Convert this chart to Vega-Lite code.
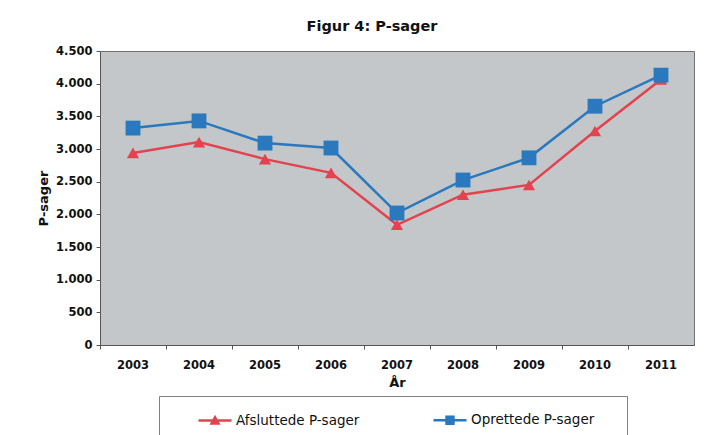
{
  "$schema": "https://vega.github.io/schema/vega-lite/v6.json",
  "width": 594,
  "height": 294,
  "autosize": {"type": "none"},
  "padding": {"left": 100, "top": 51, "right": 31, "bottom": 90},
  "background": "white",
  "title": {"text": "Figur 4: P-sager", "font": "DejaVu Sans", "fontSize": 14.5, "fontWeight": "bold", "color": "#111111", "anchor": "middle", "dx": -25, "offset": 11},
  "config": {
    "view": {"fill": "#C3C7C9", "stroke": "#707070", "strokeWidth": 1},
    "axis": {"labelFont": "DejaVu Sans", "labelFontWeight": "bold", "labelFontSize": 11.5, "labelColor": "#111111", "titleFont": "DejaVu Sans", "titleFontWeight": "bold", "titleFontSize": 13, "titleColor": "#111111", "domainColor": "#555555", "tickColor": "#555555", "grid": false}
  },
  "data": {"values": [
    {"year": "2003", "series": "Afsluttede P-sager", "value": 2940},
    {"year": "2004", "series": "Afsluttede P-sager", "value": 3105},
    {"year": "2005", "series": "Afsluttede P-sager", "value": 2845},
    {"year": "2006", "series": "Afsluttede P-sager", "value": 2635},
    {"year": "2007", "series": "Afsluttede P-sager", "value": 1840},
    {"year": "2008", "series": "Afsluttede P-sager", "value": 2300},
    {"year": "2009", "series": "Afsluttede P-sager", "value": 2450},
    {"year": "2010", "series": "Afsluttede P-sager", "value": 3275},
    {"year": "2011", "series": "Afsluttede P-sager", "value": 4065},
    {"year": "2003", "series": "Oprettede P-sager", "value": 3320},
    {"year": "2004", "series": "Oprettede P-sager", "value": 3430},
    {"year": "2005", "series": "Oprettede P-sager", "value": 3090},
    {"year": "2006", "series": "Oprettede P-sager", "value": 3015},
    {"year": "2007", "series": "Oprettede P-sager", "value": 2020},
    {"year": "2008", "series": "Oprettede P-sager", "value": 2525},
    {"year": "2009", "series": "Oprettede P-sager", "value": 2865},
    {"year": "2010", "series": "Oprettede P-sager", "value": 3655},
    {"year": "2011", "series": "Oprettede P-sager", "value": 4130}
  ]},
  "encoding": {
    "x": {"field": "year", "type": "ordinal", "scale": {"type": "band", "paddingInner": 0, "paddingOuter": 0}, "axis": {"title": "År", "labelAngle": 0, "bandPosition": 0, "tickSize": 4, "labelPadding": 10, "titlePadding": 6}},
    "y": {"field": "value", "type": "quantitative", "scale": {"domain": [0, 4500], "nice": false}, "axis": {"title": "P-sager", "values": [0, 500, 1000, 1500, 2000, 2500, 3000, 3500, 4000, 4500], "labelExpr": "replace(format(datum.value, ','), ',', '.')", "tickSize": 4, "labelPadding": 4, "titlePadding": 5}},
    "color": {"field": "series", "type": "nominal", "scale": {"domain": ["Afsluttede P-sager", "Oprettede P-sager"], "range": ["#E2434F", "#2A78BD"]},
      "legend": {"orient": "none", "legendX": 59, "legendY": 345, "direction": "horizontal", "title": "\u2800", "titleOrient": "right", "titlePadding": 20, "titleFontSize": 10, "titleColor": "white", "labelFont": "DejaVu Sans", "labelFontSize": 13.5, "labelColor": "#111111", "symbolSize": 1089, "symbolStrokeWidth": 2.5, "symbolOpacity": 1, "symbolOffset": 32, "columnPadding": 40, "labelOffset": 3, "padding": 6, "strokeColor": "#808080", "fillColor": "white", "offset": 0,
        "encode": {"symbols": {"update": {"shape": {"signal": "datum.value === 'Afsluttede P-sager' ? 'M-1,0H1M-0.21,0.18L0,-0.2L0.21,0.18Z' : 'M-1,0H1M-0.21,-0.21H0.21V0.21H-0.21Z'"}, "fill": {"scale": "color", "field": "value"}, "stroke": {"scale": "color", "field": "value"}}}}}}
  },
  "layer": [
    {"mark": {"type": "line", "strokeWidth": 2.5}},
    {"transform": [{"filter": "datum.series === 'Afsluttede P-sager'"}],
     "mark": {"type": "point", "shape": "triangle-up", "filled": true, "opacity": 1, "size": 150}},
    {"transform": [{"filter": "datum.series === 'Oprettede P-sager'"}],
     "mark": {"type": "point", "shape": "square", "filled": true, "opacity": 1, "size": 220}}
  ]
}
